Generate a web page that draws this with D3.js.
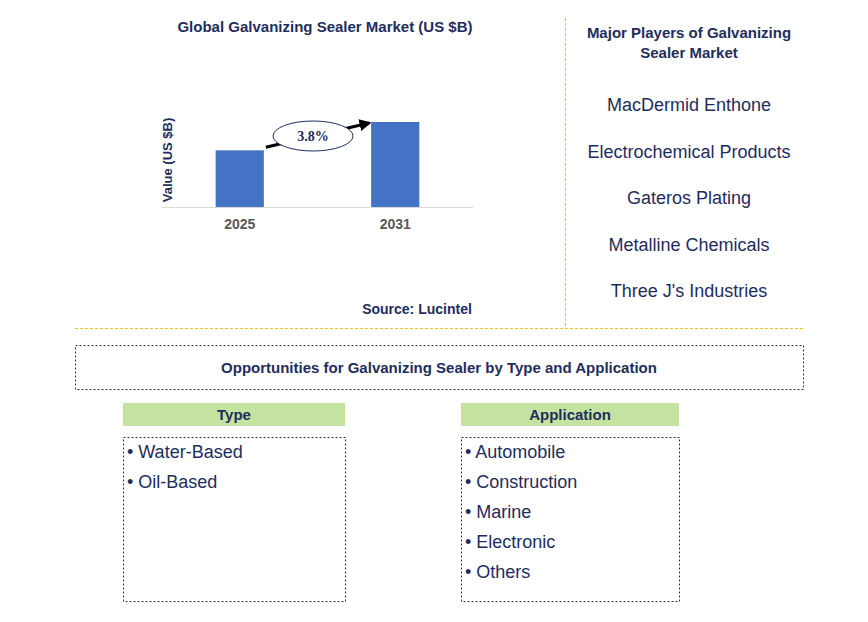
<!DOCTYPE html><html><head><meta charset="utf-8"><script src="https://cdn.jsdelivr.net/npm/d3@7"></script>
<style>body{margin:0;background:#fff}</style></head><body><svg id="c" width="868" height="622"></svg>
<script>
const years=["2025","2031"];
const values=[1.0,1.5];
const cagr="3.8%";
const players=["MacDermid Enthone","Electrochemical Products","Gateros Plating","Metalline Chemicals","Three J's Industries"];
const types=["Water-Based","Oil-Based"];
const apps=["Automobile","Construction","Marine","Electronic","Others"];
const svg=d3.select("#c");const F="Arial, Liberation Sans, sans-serif";const navy="#1f2d5c";
svg.append("text").attr("x",325).attr("y",32).attr("text-anchor","middle").attr("font-family",F).attr("font-weight","bold").attr("font-size",15).attr("fill",navy).text("Global Galvanizing Sealer Market (US $B)");
const x=d3.scaleBand().domain(years).range([162,473]).paddingInner(0.69).paddingOuter(0.345);
const y=d3.scaleLinear().domain([0,1.5]).range([207,122]);
svg.selectAll("rect.b").data(values).join("rect").attr("x",(d,i)=>x(years[i])).attr("y",d=>y(d)).attr("width",x.bandwidth()).attr("height",d=>207-y(d)).attr("fill","#4472c4");
svg.append("line").attr("x1",162).attr("x2",473).attr("y1",207.5).attr("y2",207.5).attr("stroke","#d9d9d9");
svg.selectAll("text.yr").data(years).join("text").attr("x",d=>x(d)+x.bandwidth()/2).attr("y",229).attr("text-anchor","middle").attr("font-family",F).attr("font-weight","bold").attr("font-size",14).attr("fill","#595959").text(d=>d);
svg.append("text").attr("transform","translate(172,160) rotate(-90)").attr("text-anchor","middle").attr("font-family",F).attr("font-weight","bold").attr("font-size",13).attr("fill",navy).text("Value (US $B)");
svg.append("defs").append("marker").attr("id","ah").attr("viewBox","0 0 10 10").attr("refX",8).attr("refY",5).attr("markerWidth",4).attr("markerHeight",4).attr("orient","auto").append("path").attr("d","M0,0L10,5L0,10z").attr("fill","#000");
const x0=x("2025")+x.bandwidth(),x1=x("2031");
svg.append("line").attr("x1",x0+2).attr("y1",y(values[0])-3).attr("x2",x1-2).attr("y2",y(values[1])+1).attr("stroke","#000").attr("stroke-width",3).attr("marker-end","url(#ah)");
svg.append("ellipse").attr("cx",313).attr("cy",136).attr("rx",40).attr("ry",15).attr("fill","#fff").attr("stroke","#1f2d5c");
svg.append("text").attr("x",313).attr("y",141).attr("text-anchor","middle").attr("font-family","Liberation Serif, serif").attr("font-weight","bold").attr("font-size",14).attr("fill",navy).text(cagr);
svg.append("text").attr("x",417).attr("y",314).attr("text-anchor","middle").attr("font-family",F).attr("font-weight","bold").attr("font-size",14).attr("fill",navy).text("Source: Lucintel");
const gold="#f0c020";
svg.append("line").attr("x1",565.5).attr("x2",565.5).attr("y1",18).attr("y2",326).attr("stroke",gold).attr("stroke-dasharray","3,2");
svg.append("line").attr("x1",75).attr("x2",803).attr("y1",328.5).attr("y2",328.5).attr("stroke",gold).attr("stroke-dasharray","3,2");
svg.append("text").attr("x",689).attr("y",38).attr("text-anchor","middle").attr("font-family",F).attr("font-weight","bold").attr("font-size",15).attr("fill",navy).text("Major Players of Galvanizing");
svg.append("text").attr("x",689).attr("y",58).attr("text-anchor","middle").attr("font-family",F).attr("font-weight","bold").attr("font-size",15).attr("fill",navy).text("Sealer Market");
svg.selectAll("text.p").data(players).join("text").attr("x",689).attr("y",(d,i)=>111+i*46.5).attr("text-anchor","middle").attr("font-family",F).attr("font-size",18).attr("fill",navy).text(d=>d);
svg.append("rect").attr("x",75.5).attr("y",345.5).attr("width",728).attr("height",44).attr("fill","none").attr("stroke","#333").attr("stroke-dasharray","2,2");
svg.append("text").attr("x",439).attr("y",373).attr("text-anchor","middle").attr("font-family",F).attr("font-weight","bold").attr("font-size",15).attr("fill",navy).text("Opportunities for Galvanizing Sealer by Type and Application");
function col(x0,w,title,items){
svg.append("rect").attr("x",x0).attr("y",403).attr("width",w).attr("height",23).attr("fill","#c5e3a0");
svg.append("text").attr("x",x0+w/2).attr("y",420).attr("text-anchor","middle").attr("font-family",F).attr("font-weight","bold").attr("font-size",15).attr("fill",navy).text(title);
svg.append("rect").attr("x",x0+0.5).attr("y",437.5).attr("width",w).attr("height",164).attr("fill","none").attr("stroke","#333").attr("stroke-dasharray","2,2");
svg.selectAll(null).data(items).join("text").attr("x",x0+4).attr("y",(d,i)=>458+i*30).attr("font-family",F).attr("font-size",18).attr("fill",navy).text(d=>"• "+d);
}
col(123,222,"Type",types);col(461,218,"Application",apps);
</script></body></html>
